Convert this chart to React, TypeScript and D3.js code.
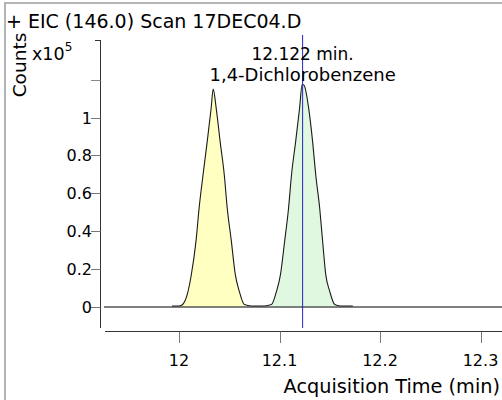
import * as d3 from "d3";

const W = 502;
const H = 400;
const FONT = "DejaVu Sans, Verdana, sans-serif";

// chromatogram trace (time in min, counts)
const TIMES = [
  11.993, 12.0, 12.003, 12.006, 12.008, 12.012, 12.017, 12.02, 12.024, 12.028, 12.032, 12.034,
  12.037, 12.041, 12.045, 12.048, 12.052, 12.056, 12.06, 12.065, 12.072,
  12.085, 12.092, 12.097, 12.101, 12.105, 12.109, 12.112, 12.116, 12.12, 12.1225, 12.1245,
  12.129, 12.133, 12.136, 12.14, 12.143, 12.146, 12.15, 12.155, 12.16, 12.173,
];
const COUNTS = [
  300, 300, 800, 3000, 6000, 16000, 35000, 52000, 70000, 87000, 105000, 115000,
  105000, 87000, 70000, 52000, 35000, 17000, 8000, 1000, 300,
  300, 1000, 8000, 17000, 34000, 52000, 70000, 87000, 105000, 117500, 117000,
  105000, 87000, 70000, 52000, 34000, 17000, 8000, 1000, 300, 300,
];

// integrated peaks
const PEAK_START = [12.0, 12.09];
const PEAK_END = [12.068, 12.158];
const PEAK_FILL = ["#ffffc2", "#e0f8e0"];

const MARKER_TIME = 12.123;
const MARKER_LABEL = "12.122 min.";
const COMPOUND = "1,4-Dichlorobenzene";

const X_TICKS = [12, 12.1, 12.2, 12.3];
const Y_TICKS = [0, 0.2, 0.4, 0.6, 0.8, 1];
const Y_MINOR = [1.2];

export default function App() {
  const x = d3.scaleLinear().domain([12, 12.1]).range([179, 279.5]);
  const y = d3.scaleLinear().domain([0, 1]).range([306.5, 117.5]);

  const pts = TIMES.map((t, i) => ({ t, v: COUNTS[i] / 1e5 }));

  const line = d3
    .line<{ t: number; v: number }>()
    .x((d) => x(d.t))
    .y((d) => y(d.v))
    .curve(d3.curveMonotoneX);

  const area = d3
    .area<{ t: number; v: number }>()
    .x((d) => x(d.t))
    .y0(y(0))
    .y1((d) => y(d.v))
    .curve(d3.curveMonotoneX);

  const axisTop = 40;
  const axisBottom = 328;
  const yAxisX = 100.5;
  const xAxisY = 331.5;
  const mx = x(MARKER_TIME);

  return (
    <div style={{ position: "fixed", left: 0, top: 0, width: W, height: H, background: "#fff" }}>
      <svg width={W} height={H} style={{ display: "block" }} fontFamily={FONT}>
        <rect x={5} y={3} width={W + 10} height={H + 10} fill="#fff" stroke="#b4b4b4" strokeWidth={2} />

        <text x={6} y={28} fontSize={19} fill="#000">
          + EIC (146.0) Scan 17DEC04.D
        </text>

        <text transform="translate(26,65) rotate(-90)" textAnchor="middle" fontSize={18.5} fill="#000">
          Counts
        </text>
        <text x={32} y={60} fontSize={17.5} fill="#000">
          x10
          <tspan fontSize={12} dy={-9}>
            5
          </tspan>
        </text>

        {/* peak fills */}
        {PEAK_START.map((s, i) => (
          <path
            key={"fill" + i}
            d={area(pts.filter((p) => p.t >= s && p.t <= PEAK_END[i])) ?? ""}
            fill={PEAK_FILL[i]}
          />
        ))}

        {/* zero line */}
        <line x1={104} x2={W} y1={y(0) + 0.5} y2={y(0) + 0.5} stroke="#000" strokeWidth={1} />

        <path d={line(pts) ?? ""} fill="none" stroke="#1a1a1a" strokeWidth={1.1} />

        {/* y axis */}
        <line x1={yAxisX} x2={yAxisX} y1={axisTop} y2={axisBottom} stroke="#333" strokeWidth={1} />
        <line x1={95} x2={yAxisX} y1={axisTop + 0.5} y2={axisTop + 0.5} stroke="#333" />
        {Y_MINOR.map((v) => (
          <line key={v} x1={91} x2={yAxisX} y1={Math.round(y(v)) + 0.5} y2={Math.round(y(v)) + 0.5} stroke="#888" />
        ))}
        {Y_TICKS.map((v) => (
          <g key={v}>
            <line x1={91} x2={yAxisX} y1={Math.round(y(v)) + 0.5} y2={Math.round(y(v)) + 0.5} stroke="#777" />
            <text x={92} y={y(v) + 6} textAnchor="end" fontSize={16} fill="#000">
              {d3.format("~g")(v)}
            </text>
          </g>
        ))}

        {/* x axis */}
        <line x1={105} x2={W} y1={xAxisY} y2={xAxisY} stroke="#333" strokeWidth={1} />
        {X_TICKS.map((t) => (
          <g key={t}>
            <line x1={Math.round(x(t)) + 0.5} x2={Math.round(x(t)) + 0.5} y1={xAxisY} y2={343} stroke="#777" />
            <text x={x(t)} y={366} textAnchor="middle" fontSize={16} fill="#000">
              {d3.format("~g")(t)}
            </text>
          </g>
        ))}
        <text x={500} y={393} textAnchor="end" fontSize={19.3} fill="#000">
          Acquisition Time (min)
        </text>

        {/* marker */}
        <line x1={mx} x2={mx} y1={35} y2={axisBottom} stroke="#2424c8" strokeWidth={1} />
        <text x={mx} y={60} textAnchor="middle" fontSize={17} fill="#000">
          {MARKER_LABEL}
        </text>
        <text x={mx} y={81} textAnchor="middle" fontSize={18} fill="#000">
          {COMPOUND}
        </text>
      </svg>
    </div>
  );
}
